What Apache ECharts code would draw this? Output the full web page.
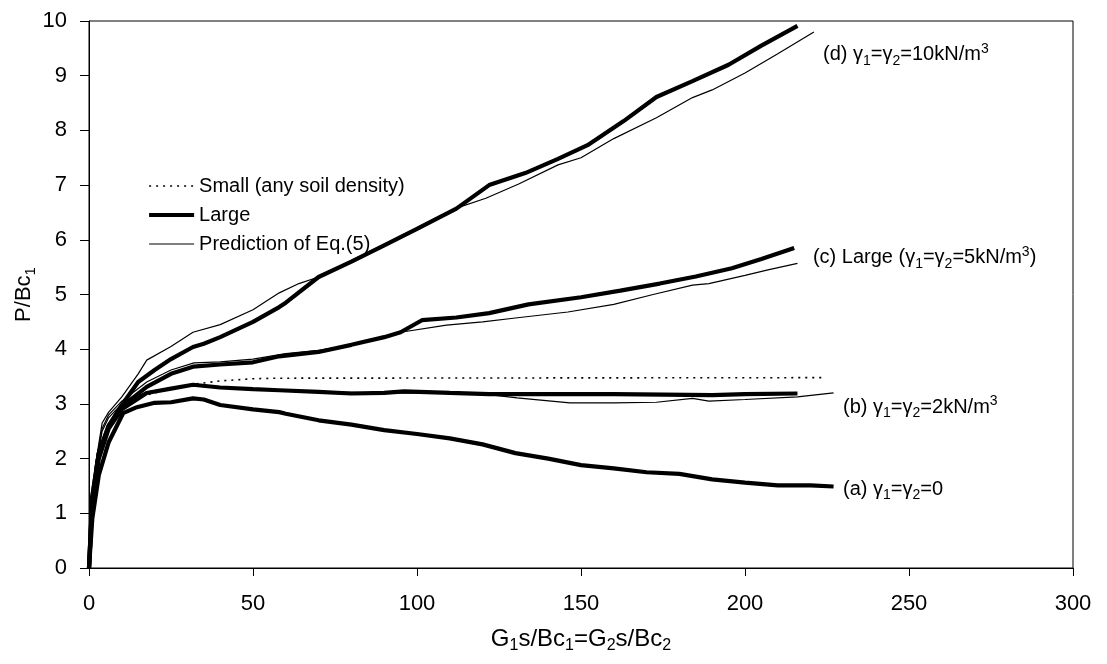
<!DOCTYPE html>
<html>
<head>
<meta charset="utf-8">
<script src="https://cdn.jsdelivr.net/npm/echarts@6/dist/echarts.min.js"></script>
<style>html,body{margin:0;padding:0;background:#fff}#c{width:1107px;height:664px}</style>
</head>
<body>
<div id="c"></div>
<script>
// ---- data (x = G1s/Bc1, y = P/Bc1) ----
const smallAny = [[0,0],[1,1.15],[3,2.0],[6,2.55],[10,2.9],[15.5,3.13],[20,3.2],[25,3.28],[31.7,3.36],[40,3.42],[50,3.46],[58,3.47],[224,3.48]];
const largeA = [[0,0],[1,0.9],[3,1.7],[6,2.3],[10.4,2.83],[14.6,2.94],[20,3.02],[25,3.03],[31.7,3.1],[35,3.08],[40,2.98],[50,2.9],[58,2.85],[60,2.82],[70,2.7],[80,2.62],[90,2.52],[100,2.45],[110,2.37],[120,2.26],[130,2.1],[140,2.0],[150,1.88],[160,1.82],[170,1.75],[180,1.72],[190,1.62],[200,1.56],[210,1.51],[220,1.51],[227,1.49]];
const largeB = [[0,0],[1,1.2],[3,2.0],[6,2.55],[10,2.9],[17.6,3.2],[25,3.28],[31.7,3.35],[40,3.3],[50,3.27],[58,3.25],[70,3.22],[80,3.19],[90,3.2],[96,3.23],[110,3.2],[122,3.18],[140,3.18],[160,3.18],[175,3.17],[190,3.16],[200,3.18],[216,3.19]];
const predB = [[0,0],[1,1.1],[2,1.8],[4,2.5],[6,2.75],[10,3.0],[17.6,3.22],[25,3.29],[31.7,3.33],[40,3.3],[50,3.27],[70,3.22],[90,3.2],[110,3.19],[122,3.17],[130.5,3.11],[146.6,3.02],[160,3.02],[173,3.03],[184,3.1],[189,3.05],[200,3.08],[216,3.13],[227,3.2]];
const largeC = [[0,0],[1,1.3],[3,2.1],[6,2.6],[10,2.95],[17.6,3.31],[25,3.55],[31.7,3.68],[40,3.72],[50,3.76],[58,3.87],[70,3.95],[80,4.08],[90,4.22],[95,4.31],[101.5,4.53],[112,4.58],[122,4.66],[134,4.82],[150,4.95],[162,5.07],[174,5.2],[185,5.33],[196,5.48],[205,5.65],[215,5.85]];
const predC = [[0,0],[1,1.2],[2,1.9],[4,2.55],[6,2.8],[10,3.05],[17.6,3.4],[25,3.62],[32,3.75],[40,3.77],[50,3.82],[60,3.92],[70,3.98],[80,4.08],[90,4.2],[95,4.31],[109,4.44],[120,4.5],[130,4.57],[146,4.68],[160,4.82],[172,5.0],[184,5.17],[189,5.2],[200,5.35],[207,5.45],[216,5.57]];
const largeD = [[0,0],[1,1.3],[3,2.1],[6,2.6],[10,2.98],[15,3.4],[20,3.62],[25,3.82],[31.7,4.04],[35,4.1],[40,4.22],[50,4.5],[58,4.77],[60,4.85],[70,5.32],[80,5.6],[90,5.9],[100,6.2],[112,6.57],[122,7.0],[133,7.22],[143,7.48],[152,7.73],[163,8.17],[173,8.61],[184,8.9],[195,9.2],[205,9.55],[216,9.91]];
const predD = [[0,0],[1,1.2],[2,1.9],[4,2.65],[6,2.85],[10,3.13],[15,3.55],[17.6,3.8],[25,4.05],[31.7,4.31],[40,4.45],[50,4.72],[58,5.03],[64,5.2],[70,5.32],[80,5.62],[90,5.92],[100,6.22],[112,6.58],[121,6.76],[131,7.02],[143,7.37],[150,7.5],[160,7.85],[173,8.23],[184,8.6],[190,8.74],[200,9.05],[210,9.4],[221,9.8]];

const legendNames = ['Small (any soil density)', 'Large', 'Prediction of Eq.(5)'];
const xTicks = {min: 0, max: 300, interval: 50};
const yTicks = {min: 0, max: 10, interval: 1};
// annotations: [x, y, rich text]
const notes = [
  [223.8, 9.38, '(d) γ{s|1}=γ{s|2}=10kN/m{p|3}'],
  [220.7, 5.67, '(c) Large (γ{s|1}=γ{s|2}=5kN/m{p|3})'],
  [229.9, 2.94, '(b) γ{s|1}=γ{s|2}=2kN/m{p|3}'],
  [229.9, 1.44, '(a) γ{s|1}=γ{s|2}=0']
];

const FONT = '"Liberation Sans", Arial, sans-serif';
const richSub = {
  s: {fontSize: 14, lineHeight: 14, verticalAlign: 'bottom', fontFamily: FONT, color: '#000'},
  p: {fontSize: 14, lineHeight: 14, verticalAlign: 'top', fontFamily: FONT, color: '#000'}
};
const hidden = {color: 'rgba(0,0,0,0)', borderColor: 'rgba(0,0,0,0)', borderWidth: 0, opacity: 0};

const chart = echarts.init(document.getElementById('c'), null, {renderer: 'canvas'});

function thick(name, data) {
  return {name: name, type: 'line', data: data, symbol: 'none', smooth: false, z: 3,
    lineStyle: {color: '#000', width: 4.2}, itemStyle: {color: '#000'}, animation: false};
}
function thin(name, data) {
  return {name: name, type: 'line', data: data, symbol: 'none', smooth: false, z: 4,
    lineStyle: {color: '#000', width: 1.2}, itemStyle: {color: '#000'}, animation: false};
}

const option = {
  animation: false,
  backgroundColor: '#fff',
  grid: {left: 89, top: 21, right: 34, bottom: 96, show: true, borderColor: '#000', borderWidth: 1, backgroundColor: 'transparent'},
  legend: {
    data: [
      {name: legendNames[0], itemStyle: hidden, lineStyle: {width: 1.6, type: [2, 5], color: '#000'}},
      {name: legendNames[1], itemStyle: hidden, lineStyle: {width: 4.2, color: '#000'}},
      {name: legendNames[2], itemStyle: hidden, lineStyle: {width: 1.2, color: '#000'}}
    ],
    orient: 'vertical', left: 142, top: 169, itemWidth: 45, itemHeight: 14, itemGap: 5,
    selectedMode: false,
    textStyle: {fontFamily: FONT, fontSize: 20, color: '#000', lineHeight: 24}
  },
  xAxis: {
    type: 'value', min: xTicks.min, max: xTicks.max, interval: xTicks.interval,
    name: 'G{s|1}s/Bc{s|1}=G{s|2}s/Bc{s|2}', nameLocation: 'middle', nameGap: 56,
    nameTextStyle: {fontFamily: FONT, fontSize: 24, color: '#000', lineHeight: 30, rich: {
      s: {fontSize: 16, lineHeight: 16, verticalAlign: 'bottom', fontFamily: FONT, color: '#000'}}},
    axisLine: {show: true, onZero: false, lineStyle: {color: '#000', width: 1}},
    axisTick: {show: true, inside: false, length: 8, lineStyle: {color: '#000'}},
    axisLabel: {fontFamily: FONT, fontSize: 22, color: '#000', margin: 25},
    splitLine: {show: false}
  },
  yAxis: {
    type: 'value', min: yTicks.min, max: yTicks.max, interval: yTicks.interval,
    axisLine: {show: true, onZero: false, lineStyle: {color: '#000', width: 1}},
    axisTick: {show: true, inside: false, length: 9, lineStyle: {color: '#000'}},
    axisLabel: {fontFamily: FONT, fontSize: 22, color: '#000', margin: 22},
    splitLine: {show: false}
  },
  series: [
    {name: legendNames[0], type: 'line', data: smallAny, symbol: 'none', z: 2,
      lineStyle: {color: '#000', width: 1.6, type: [2, 5]}, itemStyle: {color: '#000'}},
    thick(legendNames[1], largeA),
    thick(legendNames[1], largeB),
    thick(legendNames[1], largeC),
    thick(legendNames[1], largeD),
    thin(legendNames[2], predB),
    thin(legendNames[2], predC),
    thin(legendNames[2], predD)
  ]
};
chart.setOption(option);

const graphics = notes.map(function (n) {
  const p = chart.convertToPixel({gridIndex: 0}, [n[0], n[1]]);
  return {type: 'text', x: p[0], y: p[1], z: 10,
    style: {text: n[2], fontFamily: FONT, fontSize: 20, fill: '#000', lineHeight: 26,
      align: 'left', verticalAlign: 'middle', rich: richSub}};
});
const yMid = chart.convertToPixel({gridIndex: 0}, [0, (yTicks.min + yTicks.max) / 2]);
graphics.push({type: 'text', x: 24, y: yMid[1], rotation: Math.PI / 2, z: 10,
  style: {text: 'P/Bc{s|1}', fontFamily: FONT, fontSize: 22, fill: '#000', lineHeight: 28,
    align: 'center', verticalAlign: 'middle',
    rich: {s: {fontSize: 15, lineHeight: 15, verticalAlign: 'bottom', fontFamily: FONT, color: '#000'}}}});
chart.setOption({graphic: graphics});
</script>
</body>
</html>
